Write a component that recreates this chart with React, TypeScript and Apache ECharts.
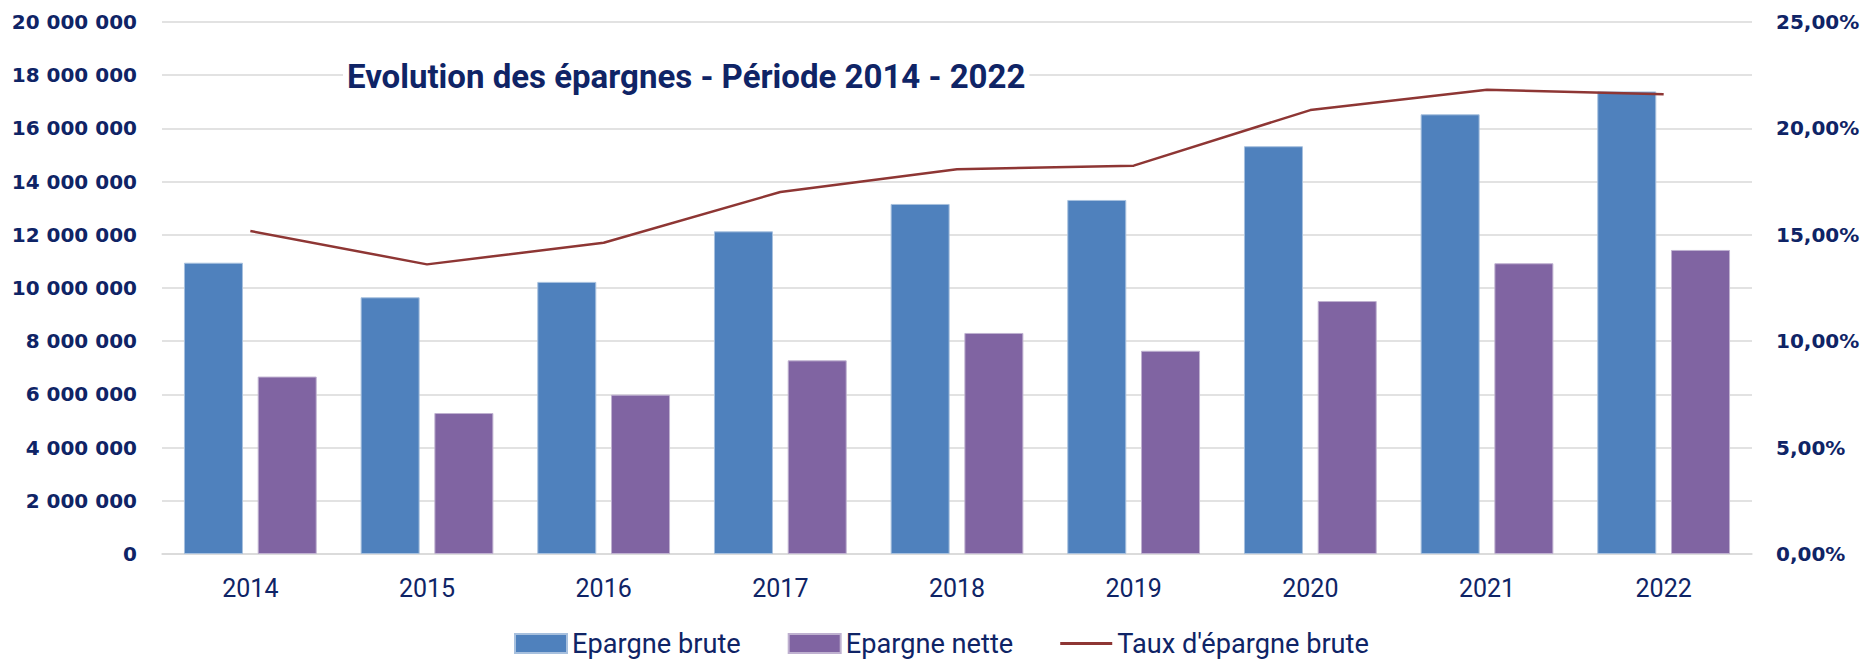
import React, { useEffect, useRef } from "react";
import * as echarts from "echarts";

const years = ["2014", "2015", "2016", "2017", "2018", "2019", "2020", "2021", "2022"];
const epargneBrute = [10950000, 9650000, 10230000, 12130000, 13160000, 13310000, 15330000, 16530000, 17390000];
const epargneNette = [6670000, 5300000, 5990000, 7280000, 8310000, 7640000, 9510000, 10930000, 11430000];
const tauxEpargneBrute = [0.1518, 0.1361, 0.1463, 0.1701, 0.1808, 0.1825, 0.2086, 0.2182, 0.216];

const titleText = "Evolution des épargnes - Période 2014 - 2022";
const seriesNames = ["Epargne brute", "Epargne nette", "Taux d'épargne brute"];

const NAVY = "#0F2466";
const LINE_ICON = "path://M0,0L0.01,0M0,8L52,8L52,11L0,11ZM52,19L51.99,19";

export default function App() {
  const ref = useRef<HTMLDivElement>(null);
  useEffect(() => {
    document.body.style.margin = "0";
    const chart = echarts.init(ref.current!, null, { renderer: "svg" });
    chart.setOption({
      animation: false,
      backgroundColor: "#ffffff",
      title: {
        text: titleText,
        left: 343,
        top: 55,
        padding: [0, 4],
        backgroundColor: "#ffffff",
        textStyle: {
          fontFamily: "Roboto",
          fontWeight: "bold",
          fontSize: 33,
          lineHeight: 42,
          color: NAVY,
        },
      },
      legend: {
        left: 509,
        top: 625,
        itemWidth: 52,
        itemHeight: 19,
        itemGap: 47,
        textStyle: { fontFamily: "Roboto", fontSize: 27.2, color: NAVY },
        data: [
          { name: seriesNames[0], icon: "rect" },
          { name: seriesNames[1], icon: "rect" },
          { name: seriesNames[2], icon: LINE_ICON },
        ],
      },
      grid: { left: 162, right: 116, top: 22, bottom: 105, containLabel: false },
      xAxis: {
        type: "category",
        data: years,
        axisTick: { show: false },
        axisLine: { lineStyle: { color: "#D9D9D9", width: 1.5 } },
        axisLabel: { fontFamily: "Roboto", fontSize: 25, color: NAVY, margin: 22 },
      },
      yAxis: [
        {
          type: "value",
          min: 0,
          max: 20000000,
          interval: 2000000,
          axisLine: { show: false },
          axisTick: { show: false },
          splitLine: { lineStyle: { color: "#D9D9D9", width: 1.5 } },
          axisLabel: {
            margin: 25,
            fontFamily: "DejaVu Sans",
            fontWeight: "bold",
            fontSize: 20,
            color: NAVY,
            formatter: (v: number) => String(Math.round(v)).replace(/\B(?=(\d{3})+(?!\d))/g, " "),
          },
        },
        {
          type: "value",
          min: 0,
          max: 0.25,
          interval: 0.05,
          position: "right",
          axisLine: { show: false },
          axisTick: { show: false },
          splitLine: { show: false },
          axisLabel: {
            margin: 24,
            fontFamily: "DejaVu Sans",
            fontWeight: "bold",
            fontSize: 20,
            color: NAVY,
            formatter: (v: number) => (v * 100).toFixed(2).replace(".", ",") + "%",
          },
        },
      ],
      series: [
        {
          name: seriesNames[0],
          type: "bar",
          data: epargneBrute,
          barWidth: 59,
          barGap: "25%",
          itemStyle: { color: "#4F81BD", borderColor: "#A7C0DE", borderWidth: 1 },
        },
        {
          name: seriesNames[1],
          type: "bar",
          data: epargneNette,
          barWidth: 59,
          barGap: "25%",
          itemStyle: { color: "#8064A2", borderColor: "#BFB1D0", borderWidth: 1 },
        },
        {
          name: seriesNames[2],
          type: "line",
          yAxisIndex: 1,
          data: tauxEpargneBrute,
          symbol: "none",
          lineStyle: { color: "#8E3634", width: 2.5 },
          itemStyle: { color: "#8E3634" },
          z: 5,
        },
      ],
    });
    return () => chart.dispose();
  }, []);
  return <div ref={ref} style={{ width: 1868, height: 659 }} />;
}
